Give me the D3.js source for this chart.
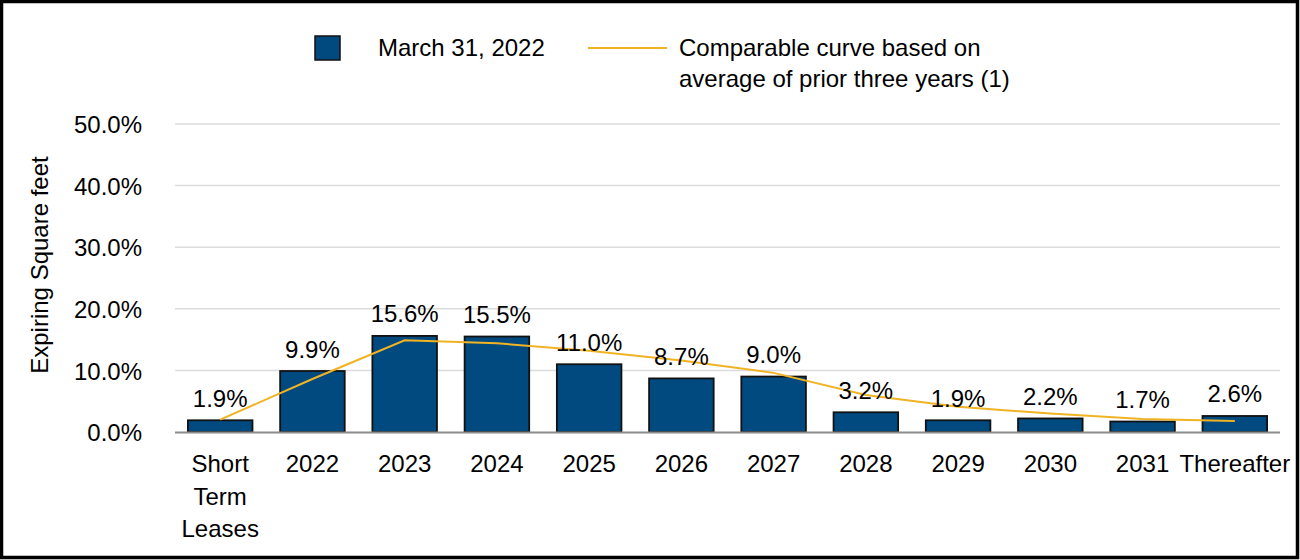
<!DOCTYPE html>
<html>
<head>
<meta charset="utf-8">
<script src="https://cdn.jsdelivr.net/npm/d3@7"></script>
<style>
  html, body { margin: 0; padding: 0; background: #fff; }
  svg { display: block; font-family: "Liberation Sans", Arial, sans-serif; }
</style>
</head>
<body>
<svg id="chart" width="1300" height="560"></svg>
<script>
const categories = ["Short Term Leases", "2022", "2023", "2024", "2025", "2026", "2027", "2028", "2029", "2030", "2031", "Thereafter"];
const barValues = [1.9, 9.9, 15.6, 15.5, 11.0, 8.7, 9.0, 3.2, 1.9, 2.2, 1.7, 2.6];
const curveValues = [2.0, 8.6, 14.9, 14.4, 13.2, 11.6, 9.6, 6.0, 4.1, 3.0, 2.1, 1.8];
const yTicks = [0, 10, 20, 30, 40, 50];
const seriesNames = ["March 31, 2022", ["Comparable curve based on", "average of prior three years (1)"]];
const yTitle = "Expiring Square feet";

const svg = d3.select("#chart");
const barColor = "#004A80";
const lineColor = "#F0B323";
const FS = 24;

// border
svg.append("rect").attr("x", 1.5).attr("y", 1.5).attr("width", 1296).attr("height", 556)
  .attr("fill", "none").attr("stroke", "#000").attr("stroke-width", 3.5);

const x = d3.scaleBand().domain(categories).range([175, 1280]).paddingInner(0.3).paddingOuter(0.14);
const y = d3.scaleLinear().domain([0, 50]).range([432, 124]);

// gridlines
svg.append("g").selectAll("line").data(yTicks.filter(d => d > 0)).join("line")
  .attr("x1", 175).attr("x2", 1280)
  .attr("y1", d => y(d)).attr("y2", d => y(d))
  .attr("stroke", "#dcdcdc").attr("stroke-width", 1.5);

// y tick labels
const yAxis = d3.axisLeft(y).tickValues(yTicks).tickFormat(d => d.toFixed(1) + "%").tickSize(0).tickPadding(0);
const yg = svg.append("g").attr("transform", "translate(142,0)").call(yAxis);
yg.select(".domain").remove();
yg.selectAll("text").attr("font-size", FS).attr("fill", "#000").attr("dy", "0.36em")
  .attr("font-family", "Liberation Sans, Arial, sans-serif");

// y title
svg.append("text").attr("transform", "translate(48,265) rotate(-90)")
  .attr("text-anchor", "middle").attr("font-size", FS).attr("fill", "#000").text(yTitle);

// bars
svg.append("g").selectAll("rect").data(barValues).join("rect")
  .attr("x", (d, i) => x(categories[i]))
  .attr("width", x.bandwidth())
  .attr("y", d => y(d))
  .attr("height", d => y(0) - y(d))
  .attr("fill", barColor).attr("stroke", "#111").attr("stroke-width", 1.8);

// baseline
svg.append("line").attr("x1", 175).attr("x2", 1280).attr("y1", y(0) + 0.5).attr("y2", y(0) + 0.5)
  .attr("stroke", "#8c8c8c").attr("stroke-width", 2);

// curve
const line = d3.line().x((d, i) => x(categories[i]) + x.bandwidth() / 2).y(d => y(d));
svg.append("path").datum(curveValues).attr("d", line)
  .attr("fill", "none").attr("stroke", lineColor).attr("stroke-width", 2);

// bar labels
svg.append("g").selectAll("text").data(barValues).join("text")
  .attr("x", (d, i) => x(categories[i]) + x.bandwidth() / 2)
  .attr("y", d => y(d) - 13.5)
  .attr("text-anchor", "middle").attr("font-size", FS).attr("fill", "#000")
  .text(d => d.toFixed(1) + "%");

// x labels
const xg = svg.append("g");
categories.forEach((c, i) => {
  const lines = c === "Short Term Leases" ? ["Short", "Term", "Leases"] : [c];
  const t = xg.append("text").attr("text-anchor", "middle").attr("font-size", FS).attr("fill", "#000");
  lines.forEach((l, j) => {
    t.append("tspan").attr("x", x(c) + x.bandwidth() / 2).attr("y", 472 + j * 32.5).text(l);
  });
});

// legend
svg.append("rect").attr("x", 315).attr("y", 36).attr("width", 25).attr("height", 24)
  .attr("fill", barColor).attr("stroke", "#111").attr("stroke-width", 1.5);
svg.append("text").attr("x", 378).attr("y", 56).attr("font-size", FS).attr("fill", "#000").text(seriesNames[0]);
svg.append("line").attr("x1", 588).attr("x2", 667).attr("y1", 48).attr("y2", 48)
  .attr("stroke", lineColor).attr("stroke-width", 2);
const lt = svg.append("text").attr("font-size", FS).attr("fill", "#000");
seriesNames[1].forEach((l, j) => {
  lt.append("tspan").attr("x", 679).attr("y", 56 + j * 31).text(l);
});
</script>
</body>
</html>
